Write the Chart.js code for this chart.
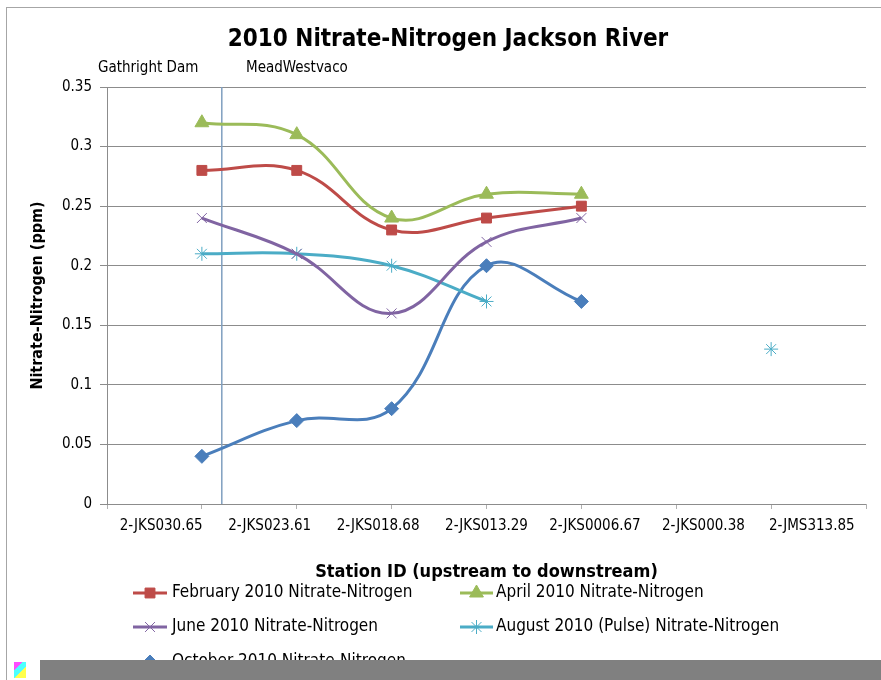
<!DOCTYPE html>
<html>
<head>
<meta charset="utf-8">
<script src="https://cdn.jsdelivr.net/npm/chart.js@4.4.1/dist/chart.umd.min.js"></script>
<style>
  html, body { margin: 0; padding: 0; background: #fff; }
  #wrap { position: relative; width: 881px; height: 680px; overflow: hidden; }
  #frame { position: absolute; left: 6px; top: 7px; width: 920px; height: 720px; border: 1px solid #a6a6a6; box-sizing: border-box; }
  #chart { position: absolute; left: 0; top: 0; }
  #bar { position: absolute; left: 40px; right: 0; bottom: 0; height: 20px; background: #808080; }
  #icon { position: absolute; left: 14px; bottom: 2px; width: 12px; height: 16px;
          background: linear-gradient(135deg, #f0f 0 30%, #0ff 30% 60%, #ff0 60%); opacity: .7; }
</style>
</head>
<body>
<div id="wrap">
  <div id="frame"></div>
  <canvas id="chart" width="881" height="680"></canvas>
  <div id="icon"></div>
  <div id="bar"></div>
</div>
<script>
// --- data ---
const stations = ['2-JKS030.65', '2-JKS023.61', '2-JKS018.68', '2-JKS013.29', '2-JKS0006.67', '2-JKS000.38', '2-JMS313.85'];
const stationPos = [1, 2, 3, 4, 5, 6, 7];
const febValues = [0.28, 0.28, 0.23, 0.24, 0.25, null, null];
const aprValues = [0.32, 0.31, 0.24, 0.26, 0.26, null, null];
const junValues = [0.24, 0.21, 0.16, 0.22, 0.24, null, null];
const augValues = [0.21, 0.21, 0.20, 0.17, null, null, 0.13];
const octValues = [0.04, 0.07, 0.08, 0.20, 0.17, null, null];
const yTicks = [0, 0.05, 0.1, 0.15, 0.2, 0.25, 0.3, 0.35];
const damLineX = 1.21;   // vertical marker between the dam and the mill
const landmarks = ['Gathright Dam', 'MeadWestvaco'];

const FONT = '"Liberation Sans Narrow", "DejaVu Sans Condensed", "Roboto", sans-serif';

const toPoints = vals => stationPos.map((x, i) => ({ x: x, y: vals[i] }));

function series(label, vals, color, style, radius) {
    return {
        label: label,
        data: toPoints(vals),
        borderColor: color,
        backgroundColor: color,
        pointBackgroundColor: color,
        pointBorderColor: color,
        pointStyle: style,
        pointRadius: radius,
        pointBorderWidth: 1,
        borderWidth: 3,
        tension: 0.4,
        spanGaps: false
    };
}

const datasets = [
    series('February 2010 Nitrate-Nitrogen', febValues, '#be4b48', 'rect', 7),
    series('April 2010 Nitrate-Nitrogen', aprValues, '#9bbb59', 'triangle', 8),
    series('June 2010 Nitrate-Nitrogen', junValues, '#8064a2', 'crossRot', 7),
    series('August 2010 (Pulse) Nitrate-Nitrogen', augValues, '#4bacc6', 'star', 7),
    series('October 2010 Nitrate-Nitrogen', octValues, '#4a7ebb', 'rectRot', 7),
    {
        label: 'marker',
        data: [{ x: damLineX, y: 0 }, { x: damLineX, y: 0.35 }],
        borderColor: '#7f9fbf',
        borderWidth: 1.5,
        pointRadius: 0,
        tension: 0
    }
];

// legend slots: [lineStart, lineEnd, textX, y]
const legendSlots = [
    [133, 167, 172, 593],
    [460, 493, 496, 593],
    [133, 167, 172, 627],
    [460, 493, 496, 627],
    [133, 167, 172, 662]
];

const decorPlugin = {
    id: 'decor',
    afterDraw(chart) {
        const c = chart.ctx;
        c.save();
        c.fillStyle = '#000';
        c.textBaseline = 'middle';

        // title
        c.font = 'bold 24px ' + FONT;
        c.textAlign = 'center';
        c.fillText('2010 Nitrate-Nitrogen Jackson River', 448, 40);

        // landmark labels
        c.font = '15px ' + FONT;
        c.textAlign = 'left';
        c.fillText(landmarks[0], 98, 68);
        c.fillText(landmarks[1], 246, 68);

        // legend
        datasets.slice(0, 5).forEach((ds, i) => {
            const [x1, x2, tx, y] = legendSlots[i];
            c.strokeStyle = ds.borderColor;
            c.lineWidth = 3;
            c.beginPath();
            c.moveTo(x1, y);
            c.lineTo(x2, y);
            c.stroke();
            c.fillStyle = ds.borderColor;
            c.lineWidth = 1;
            Chart.helpers.drawPoint(c, { pointStyle: ds.pointStyle, radius: ds.pointRadius, rotation: 0, borderWidth: 1 }, (x1 + x2) / 2, y);
            c.fillStyle = '#000';
            c.font = '17px ' + FONT;
            c.fillText(ds.label, tx, y);
        });
        c.restore();
    }
};

new Chart(document.getElementById('chart'), {
    type: 'line',
    data: { datasets: datasets },
    options: {
        responsive: false,
        animation: false,
        layout: { padding: { top: 87, right: 15, bottom: 0, left: 0 } },
        plugins: {
            legend: { display: false },
            tooltip: { enabled: false },
            title: { display: false }
        },
        scales: {
            x: {
                type: 'linear',
                min: 0,
                max: 8,
                position: 'bottom',
                grid: { drawOnChartArea: false, tickLength: 5, tickColor: '#b0b0b0' },
                border: { display: false },
                ticks: { stepSize: 1, callback: () => '' },
                afterFit: s => { s.height = 0; }
            },
            xLabels: {
                type: 'category',
                axis: 'x',
                position: 'bottom',
                labels: stations,
                offset: true,
                grid: { display: false },
                border: { display: false },
                ticks: {
                    autoSkip: false,
                    maxRotation: 0,
                    padding: 5,
                    color: '#000',
                    font: { family: FONT, size: 15 }
                },
                title: {
                    display: true,
                    text: 'Station ID (upstream to downstream)',
                    color: '#000',
                    font: { family: FONT, size: 18, weight: 'bold' },
                    padding: { top: 0, bottom: 97 }
                },
                afterFit: s => { s.height = 176; }
            },
            y: {
                min: 0,
                max: 0.35,
                afterBuildTicks: s => { s.ticks = yTicks.map(v => ({ value: v })); },
                ticks: {
                    padding: 8,
                    color: '#000',
                    font: { family: FONT, size: 15 },
                    callback: v => String(+v.toFixed(2))
                },
                grid: { color: '#8c8c8c', tickLength: 7, tickColor: '#8c8c8c' },
                border: { color: '#8c8c8c' },
                title: {
                    display: true,
                    text: 'Nitrate-Nitrogen (ppm)',
                    color: '#000',
                    font: { family: FONT, size: 16, weight: 'bold' },
                    padding: { top: 28, bottom: 0 }
                },
                afterFit: s => { s.width = 107; }
            }
        }
    },
    plugins: [decorPlugin]
});
</script>
</body>
</html>
